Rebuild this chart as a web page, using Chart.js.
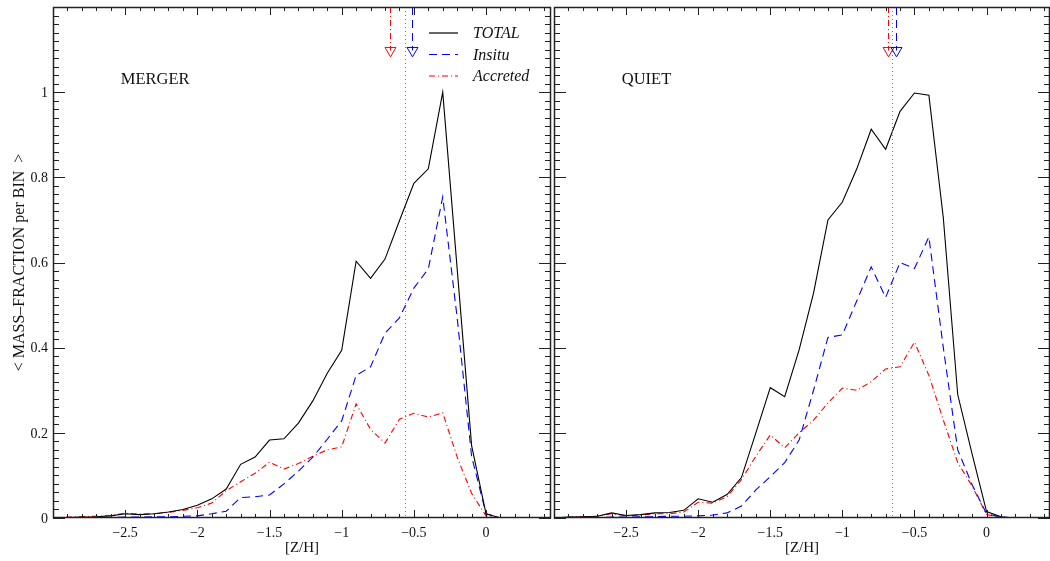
<!DOCTYPE html>
<html>
<head>
<meta charset="utf-8">
<script src="https://cdn.jsdelivr.net/npm/chart.js@4/dist/chart.umd.min.js"></script>
<style>
    body { margin: 0; background: #fff; }
    #wrap { position: relative; width: 1050px; height: 561px; overflow: hidden; }
    canvas { position: absolute; top: 0; }
</style>
</head>
<body>
<div id="wrap">
    <canvas id="merger" width="552" height="561" style="left:0"></canvas>
    <canvas id="quiet" width="498" height="561" style="left:552px"></canvas>
</div>
<script>
    /* [Z/H] bin centres */
    var zh = [-3.0, -2.9, -2.8, -2.7, -2.6, -2.5, -2.4, -2.3, -2.2, -2.1,
        -2.0, -1.9, -1.8, -1.7, -1.6, -1.5, -1.4, -1.3, -1.2, -1.1,
        -1.0, -0.9, -0.8, -0.7, -0.6, -0.5, -0.4, -0.3, -0.2, -0.1,
        0.0, 0.1, 0.2, 0.3, 0.4];

    /* MERGER panel */
    var mergerTotal = [0, 0.001, 0.002, 0.003, 0.005, 0.010, 0.008, 0.010, 0.014, 0.020,
        0.030, 0.045, 0.068, 0.126, 0.143, 0.183, 0.186, 0.223, 0.275, 0.340,
        0.394, 0.603, 0.563, 0.608, 0.698, 0.786, 0.820, 1.000, 0.585, 0.170,
        0.010, 0, 0, 0, 0];
    var mergerInsitu = [0, 0, 0, 0.001, 0.001, 0.002, 0.002, 0.003, 0.003, 0.004,
        0.005, 0.010, 0.016, 0.048, 0.050, 0.054, 0.080, 0.110, 0.143, 0.185,
        0.228, 0.335, 0.355, 0.434, 0.470, 0.540, 0.585, 0.754, 0.470, 0.145,
        0.010, 0, 0, 0, 0];
    var mergerAccreted = [0, 0.002, 0.003, 0.004, 0.006, 0.011, 0.009, 0.010, 0.013, 0.018,
        0.024, 0.035, 0.064, 0.085, 0.105, 0.131, 0.115, 0.128, 0.145, 0.160,
        0.167, 0.268, 0.208, 0.176, 0.232, 0.246, 0.237, 0.247, 0.143, 0.058,
        0.005, 0, 0, 0, 0];

    /* QUIET panel */
    var quietTotal = [0, 0.002, 0.003, 0.004, 0.012, 0.006, 0.008, 0.012, 0.013, 0.018,
        0.045, 0.037, 0.055, 0.095, 0.200, 0.306, 0.285, 0.395, 0.528, 0.700,
        0.742, 0.820, 0.913, 0.866, 0.955, 0.998, 0.993, 0.705, 0.290, 0.150,
        0.015, 0.003, 0, 0, 0];
    var quietInsitu = [0, 0, 0, 0.001, 0.002, 0.002, 0.003, 0.003, 0.004, 0.004,
        0.005, 0.007, 0.012, 0.028, 0.066, 0.097, 0.130, 0.183, 0.300, 0.424,
        0.430, 0.510, 0.590, 0.518, 0.600, 0.586, 0.660, 0.400, 0.160, 0.078,
        0.010, 0.002, 0, 0, 0];
    var quietAccreted = [0, 0.002, 0.003, 0.004, 0.010, 0.005, 0.007, 0.010, 0.010, 0.014,
        0.037, 0.035, 0.050, 0.090, 0.145, 0.195, 0.165, 0.200, 0.230, 0.270,
        0.305, 0.300, 0.320, 0.350, 0.355, 0.413, 0.335, 0.230, 0.130, 0.075,
        0.008, 0.002, 0, 0, 0];

    /* medians: [MERGER, QUIET] */
    var medianTotal = [-0.56, -0.655];
    var medianInsitu = [-0.515, -0.627];
    var medianAccreted = [-0.665, -0.685];

    var xTicks = [-2.5, -2, -1.5, -1, -0.5, 0];
    var yTicks = [0, 0.2, 0.4, 0.6, 0.8, 1];
    var legendNames = ['TOTAL', 'Insitu', 'Accreted'];

    var colTotal = '#000000', colInsitu = '#0000ff', colAccreted = '#ff0000';
    var dashInsitu = [8, 5], dashAccreted = [6, 3, 1, 3];
    var serif = '"Liberation Serif", serif';

    var toPoints = function (vals) {
        var pts = [];
        for (var i = 0; i < zh.length; i++) {
            pts.push({x: zh[i], y: vals[i]});
        }
        return pts;
    };

    var minus = function (v) {
        v = +v.toFixed(2);
        return (v < 0 ? '\u2212' : '') + Math.abs(v);
    };

    var drawArrow = function (ctx, xs, ys, v, color, dash) {
        var px = Math.round(xs.getPixelForValue(v)) + 0.5;
        var top = ys.getPixelForValue(1.2);
        var base = ys.getPixelForValue(1.105);
        var tip = ys.getPixelForValue(1.083);
        ctx.strokeStyle = color;
        ctx.lineWidth = 1;
        ctx.setLineDash(dash);
        ctx.beginPath();
        ctx.moveTo(px, top);
        ctx.lineTo(px, base + 3);
        ctx.stroke();
        ctx.setLineDash([]);
        ctx.beginPath();
        ctx.moveTo(px - 5.5, base);
        ctx.lineTo(px + 5.5, base);
        ctx.lineTo(px, tip);
        ctx.closePath();
        ctx.stroke();
    };

    /* frame, inward ticks, medians, labels */
    var framePlugin = {
        id: 'frame',
        afterDatasetsDraw: function (chart, args, opts) {
            var ctx = chart.ctx, a = chart.chartArea;
            var xs = chart.scales.x, ys = chart.scales.y;
            var i, p, len;
            ctx.save();

            // median of total
            var mx = Math.round(xs.getPixelForValue(medianTotal[opts.panel])) + 0.5;
            ctx.strokeStyle = '#777';
            ctx.lineWidth = 1;
            ctx.setLineDash([1, 3]);
            ctx.beginPath();
            ctx.moveTo(mx, a.top);
            ctx.lineTo(mx, a.bottom);
            ctx.stroke();

            drawArrow(ctx, xs, ys, medianAccreted[opts.panel], colAccreted, dashAccreted);
            drawArrow(ctx, xs, ys, medianInsitu[opts.panel], colInsitu, dashInsitu);

            ctx.setLineDash([]);
            ctx.strokeStyle = '#222';
            ctx.lineWidth = 1;
            ctx.beginPath();
            for (i = -30; i <= 4; i++) {
                p = Math.round(xs.getPixelForValue(i / 10)) + 0.5;
                if (p > a.right) continue;
                len = (i % 5 === 0) ? 8 : 4;
                ctx.moveTo(p, a.bottom);
                ctx.lineTo(p, a.bottom - len);
                ctx.moveTo(p, a.top);
                ctx.lineTo(p, a.top + len);
            }
            for (i = 0; i <= 60; i++) {
                p = Math.round(ys.getPixelForValue(i / 50)) + 0.5;
                len = (i % 10 === 0) ? 12 : 6;
                ctx.moveTo(a.left, p);
                ctx.lineTo(a.left + len, p);
                ctx.moveTo(a.right, p);
                ctx.lineTo(a.right - len, p);
            }
            ctx.stroke();
            ctx.lineWidth = 1.5;
            ctx.strokeRect(a.left + 0.5, a.top + 0.5, a.right - a.left - 1, a.bottom - a.top - 1);

            ctx.fillStyle = '#111';
            // y tick labels, left panel only
            if (opts.yLabels) {
                ctx.font = '14px ' + serif;
                ctx.textAlign = 'right';
                ctx.textBaseline = 'middle';
                for (i = 0; i < yTicks.length; i++) {
                    ctx.fillText(String(yTicks[i]), a.left - 5, ys.getPixelForValue(yTicks[i]) + 1);
                }
            }

            // panel name
            ctx.font = '16.5px ' + serif;
            ctx.textBaseline = 'alphabetic';
            ctx.textAlign = 'left';
            ctx.fillText(opts.label, xs.getPixelForValue(-2.53), ys.getPixelForValue(1.02));

            if (opts.legend) {
                var cols = [colTotal, colInsitu, colAccreted];
                var dashes = [[], dashInsitu, dashAccreted];
                var lx = xs.getPixelForValue(-0.395);
                for (i = 0; i < legendNames.length; i++) {
                    var ly = a.top + 26 + i * 21.5;
                    ctx.strokeStyle = cols[i];
                    ctx.lineWidth = 1.2;
                    ctx.setLineDash(dashes[i]);
                    ctx.beginPath();
                    ctx.moveTo(lx, ly);
                    ctx.lineTo(lx + 29, ly);
                    ctx.stroke();
                    ctx.font = 'italic 16px ' + serif;
                    ctx.textBaseline = 'middle';
                    ctx.fillText(legendNames[i], lx + 44, ly + 1);
                }
            }
            ctx.restore();
        }
    };

    var makeConfig = function (total, insitu, accreted, panel, label, xmax) {
        var first = panel === 0;
        var yScale = {
            type: 'linear',
            display: first,
            min: 0,
            max: 1.2,
            grid: {display: false, drawTicks: false},
            border: {display: false},
            ticks: {display: false, stepSize: 0.2},
            title: {
                display: true,
                text: '< MASS\u2013FRACTION per BIN  >',
                color: '#111',
                padding: {top: 10, bottom: 0},
                font: {family: serif, size: 16}
            }
        };
        if (first) {
            yScale.afterFit = function (scale) { scale.width = 53; };
        }
        return {
            type: 'line',
            data: {
                datasets: [{
                    label: 'TOTAL',
                    data: toPoints(total),
                    borderColor: colTotal,
                    borderWidth: 1.1
                }, {
                    label: 'Insitu',
                    data: toPoints(insitu),
                    borderColor: colInsitu,
                    borderWidth: 1.1,
                    borderDash: dashInsitu
                }, {
                    label: 'Accreted',
                    data: toPoints(accreted),
                    borderColor: colAccreted,
                    borderWidth: 1.1,
                    borderDash: dashAccreted
                }]
            },
            options: {
                responsive: false,
                animation: false,
                events: [],
                layout: {padding: {top: 7, right: first ? 1 : 0, left: first ? 0 : 2, bottom: 0}},
                elements: {point: {radius: 0}, line: {tension: 0, fill: false}},
                plugins: {
                    legend: {display: false},
                    tooltip: {enabled: false},
                    frame: {panel: panel, label: label, legend: first, yLabels: first}
                },
                scales: {
                    x: {
                        type: 'linear',
                        min: -3,
                        max: xmax,
                        grid: {display: false, drawTicks: false},
                        border: {display: false},
                        afterFit: function (scale) { scale.height = 43; },
                        ticks: {
                            stepSize: 0.5,
                            autoSkip: false,
                            maxRotation: 0,
                            padding: 7,
                            color: '#111',
                            font: {family: serif, size: 14},
                            callback: function (v) {
                                for (var k = 0; k < xTicks.length; k++) {
                                    if (Math.abs(v - xTicks[k]) < 1e-6) return minus(v);
                                }
                                return null;
                            }
                        },
                        title: {
                            display: true,
                            text: '[Z/H]',
                            color: '#111',
                            padding: {top: 0, bottom: 4},
                            font: {family: serif, size: 15}
                        }
                    },
                    y: yScale
                }
            },
            plugins: [framePlugin]
        };
    };

    new Chart(document.getElementById('merger').getContext('2d'),
        makeConfig(mergerTotal, mergerInsitu, mergerAccreted, 0, 'MERGER', 0.45));
    new Chart(document.getElementById('quiet').getContext('2d'),
        makeConfig(quietTotal, quietInsitu, quietAccreted, 1, 'QUIET', 0.44));
</script>
</body>
</html>
